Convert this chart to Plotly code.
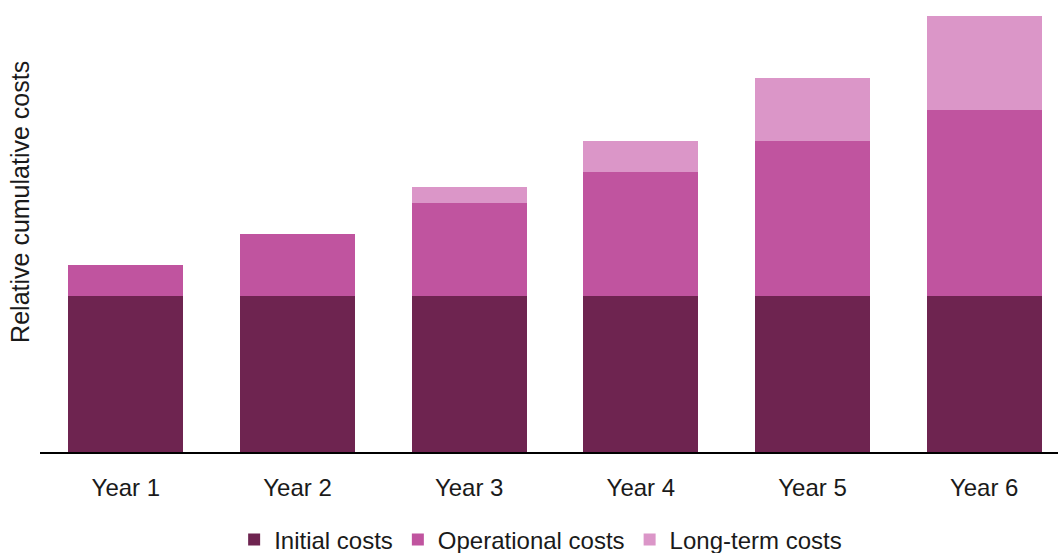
import plotly.graph_objects as go

years = ["Year 1", "Year 2", "Year 3", "Year 4", "Year 5", "Year 6"]
initial_costs = [5, 5, 5, 5, 5, 5]
operational_costs = [1, 2, 3, 4, 5, 6]
long_term_costs = [0, 0, 0.5, 1, 2, 3]

colors = {"Initial costs": "#6e2450", "Operational costs": "#c0549f", "Long-term costs": "#db96c8"}

fig = go.Figure()
for name, vals in [("Initial costs", initial_costs), ("Operational costs", operational_costs), ("Long-term costs", long_term_costs)]:
    fig.add_trace(go.Bar(x=years, y=vals, name=name, marker=dict(color=colors[name], line=dict(width=0))))

font_family = "Liberation Sans, Arial, sans-serif"
fig.update_layout(
    barmode="stack",
    bargap=0.33,
    width=1058, height=553,
    margin=dict(l=40, r=0, t=10, b=101),
    plot_bgcolor="white", paper_bgcolor="white",
    font=dict(family=font_family, size=24, color="#1a1a1a"),
    showlegend=True,
    legend=dict(orientation="h", xref="container", yref="container",
                x=0.511, xanchor="center", y=0.0235, yanchor="middle",
                font=dict(size=24), traceorder="normal"),
    xaxis=dict(range=[-0.5, 5.43], showline=True, linecolor="black", linewidth=2,
               ticks="outside", ticklen=13, tickcolor="rgba(0,0,0,0)", showgrid=False,
               tickfont=dict(size=24)),
    yaxis=dict(range=[0, 14.2], showticklabels=False, showgrid=False, zeroline=False, ticks=""),
    annotations=[dict(text="Relative cumulative costs", xref="paper", yref="paper",
                      x=-0.0196, y=0.566, xanchor="center", yanchor="middle",
                      textangle=-90, showarrow=False, font=dict(size=25))],
)

fig.write_html("out.html", config={"displayModeBar": False},
               post_script="document.body.style.margin='0';")
